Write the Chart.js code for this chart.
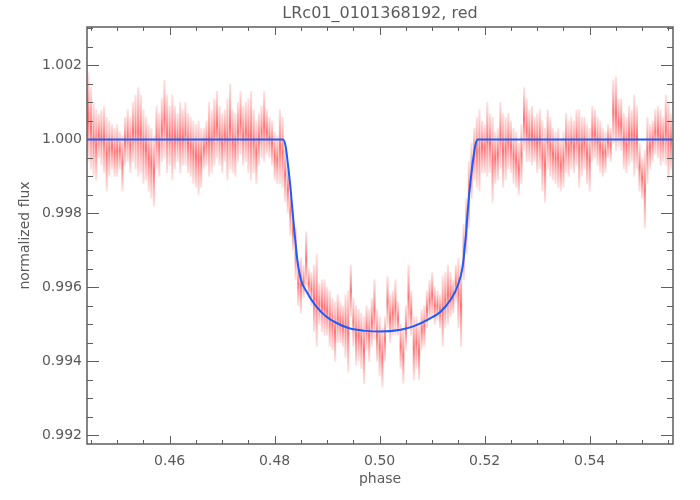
<!DOCTYPE html>
<html>
<head>
<meta charset="utf-8">
<script src="https://cdn.jsdelivr.net/npm/chart.js@4.4.1/dist/chart.umd.min.js"></script>
<style>
  html, body { margin: 0; padding: 0; background: #fff; }
  #wrap { width: 700px; height: 500px; }
</style>
</head>
<body>
<div id="wrap"><canvas id="myChart" width="700" height="500"></canvas></div>
<script>
// folded light curve, one streak per phase bin (lowest / highest flux seen in the bin)
const phase = [
  0.4445,0.4450,0.4455,0.4460,0.4465,0.4470,0.4475,0.4480,0.4485,0.4490,
  0.4495,0.4500,0.4505,0.4510,0.4515,0.4520,0.4525,0.4530,0.4535,0.4540,
  0.4545,0.4550,0.4555,0.4560,0.4565,0.4570,0.4575,0.4580,0.4585,0.4590,
  0.4595,0.4600,0.4605,0.4610,0.4615,0.4620,0.4625,0.4630,0.4635,0.4640,
  0.4645,0.4650,0.4655,0.4660,0.4665,0.4670,0.4675,0.4680,0.4685,0.4690,
  0.4695,0.4700,0.4705,0.4710,0.4715,0.4720,0.4725,0.4730,0.4735,0.4740,
  0.4745,0.4750,0.4755,0.4760,0.4765,0.4770,0.4775,0.4780,0.4785,0.4790,
  0.4795,0.4800,0.4805,0.4810,0.4815,0.4820,0.4825,0.4830,0.4835,0.4840,
  0.4845,0.4850,0.4855,0.4860,0.4865,0.4870,0.4875,0.4880,0.4885,0.4890,
  0.4895,0.4900,0.4905,0.4910,0.4915,0.4920,0.4925,0.4930,0.4935,0.4940,
  0.4945,0.4950,0.4955,0.4960,0.4965,0.4970,0.4975,0.4980,0.4985,0.4990,
  0.4995,0.5000,0.5005,0.5010,0.5015,0.5020,0.5025,0.5030,0.5035,0.5040,
  0.5045,0.5050,0.5055,0.5060,0.5065,0.5070,0.5075,0.5080,0.5085,0.5090,
  0.5095,0.5100,0.5105,0.5110,0.5115,0.5120,0.5125,0.5130,0.5135,0.5140,
  0.5145,0.5150,0.5155,0.5160,0.5165,0.5170,0.5175,0.5180,0.5185,0.5190,
  0.5195,0.5200,0.5205,0.5210,0.5215,0.5220,0.5225,0.5230,0.5235,0.5240,
  0.5245,0.5250,0.5255,0.5260,0.5265,0.5270,0.5275,0.5280,0.5285,0.5290,
  0.5295,0.5300,0.5305,0.5310,0.5315,0.5320,0.5325,0.5330,0.5335,0.5340,
  0.5345,0.5350,0.5355,0.5360,0.5365,0.5370,0.5375,0.5380,0.5385,0.5390,
  0.5395,0.5400,0.5405,0.5410,0.5415,0.5420,0.5425,0.5430,0.5435,0.5440,
  0.5445,0.5450,0.5455,0.5460,0.5465,0.5470,0.5475,0.5480,0.5485,0.5490,
  0.5495,0.5500,0.5505,0.5510,0.5515,0.5520,0.5525,0.5530,0.5535,0.5540,
  0.5545,0.5550,0.5555
];
const fluxHigh = [
  1.0018,1.0014,1.0010,1.0008,1.0007,1.0008,1.0009,1.0006,1.0005,1.0004,
  1.0003,1.0004,1.0002,1.0001,1.0006,1.0008,1.0006,1.0010,1.0012,1.0014,
  1.0012,1.0008,1.0006,1.0004,1.0003,1.0001,1.0009,1.0007,1.0011,1.0016,
  1.0012,1.0009,1.0012,1.0009,1.0007,1.0010,1.0008,1.0010,1.0007,1.0006,
  1.0005,1.0004,1.0005,1.0003,1.0003,1.0005,1.0010,1.0008,1.0011,1.0013,
  1.0009,1.0007,1.0008,1.0011,1.0015,1.0008,1.0007,1.0010,1.0013,1.0009,
  1.0010,1.0011,1.0013,1.0008,1.0005,1.0007,1.0009,1.0013,1.0008,1.0006,
  1.0005,1.0002,1.0001,1.0008,1.0006,0.9998,0.9993,0.9987,0.9981,0.9976,
  0.9967,0.9968,0.9966,0.9975,0.9965,0.9964,0.9966,0.9969,0.9961,0.9962,
  0.9962,0.9960,0.9959,0.9957,0.9956,0.9958,0.9956,0.9955,0.9958,0.9959,
  0.9966,0.9957,0.9955,0.9954,0.9953,0.9952,0.9955,0.9954,0.9957,0.9962,
  0.9954,0.9952,0.9949,0.9952,0.9963,0.9958,0.9959,0.9962,0.9956,0.9950,
  0.9949,0.9955,0.9966,0.9959,0.9952,0.9952,0.9950,0.9954,0.9955,0.9959,
  0.9962,0.9964,0.9960,0.9959,0.9958,0.9963,0.9964,0.9966,0.9964,0.9962,
  0.9966,0.9968,0.9966,0.9977,0.9984,0.9994,0.9999,1.0003,1.0006,1.0008,
  1.0005,1.0004,1.0010,1.0007,1.0006,1.0002,1.0003,1.0010,1.0007,1.0006,
  1.0007,1.0005,1.0003,1.0002,0.9999,1.0004,1.0014,1.0011,1.0008,1.0009,
  1.0006,1.0007,1.0008,1.0005,1.0003,1.0008,1.0006,1.0003,1.0002,1.0003,
  1.0000,1.0002,1.0007,1.0005,1.0006,1.0005,1.0008,1.0008,1.0006,1.0006,
  1.0004,1.0003,1.0009,1.0008,1.0006,1.0005,1.0003,1.0002,1.0004,1.0003,
  1.0016,1.0017,1.0011,1.0011,1.0007,1.0006,1.0009,1.0008,1.0012,1.0009,
  0.9999,0.9995,0.9997,1.0006,1.0004,1.0005,1.0008,1.0009,1.0008,1.0006,
  1.0012,1.0010,1.0007
];
const fluxLow = [
  0.9994,0.9992,0.9990,0.9989,0.9995,0.9993,0.9991,0.9986,0.9990,0.9992,
  0.9990,0.9990,0.9992,0.9986,0.9993,0.9994,0.9991,0.9994,0.9992,0.9990,
  0.9991,0.9988,0.9989,0.9986,0.9984,0.9982,0.9992,0.9990,0.9994,0.9995,
  0.9991,0.9993,0.9989,0.9992,0.9994,0.9991,0.9993,0.9993,0.9991,0.9990,
  0.9988,0.9987,0.9985,0.9987,0.9992,0.9993,0.9990,0.9991,0.9993,0.9995,
  0.9993,0.9991,0.9994,0.9989,0.9992,0.9991,0.9990,0.9994,0.9996,0.9993,
  0.9994,0.9991,0.9989,0.9991,0.9988,0.9993,0.9995,0.9994,0.9996,0.9995,
  0.9993,0.9989,0.9988,0.9988,0.9987,0.9983,0.9980,0.9974,0.9970,0.9962,
  0.9955,0.9953,0.9957,0.9960,0.9957,0.9955,0.9948,0.9944,0.9950,0.9948,
  0.9947,0.9947,0.9944,0.9943,0.9940,0.9945,0.9945,0.9944,0.9941,0.9937,
  0.9952,0.9944,0.9939,0.9940,0.9938,0.9934,0.9943,0.9940,0.9944,0.9946,
  0.9940,0.9936,0.9933,0.9940,0.9949,0.9945,0.9947,0.9947,0.9947,0.9938,
  0.9934,0.9943,0.9949,0.9947,0.9935,0.9938,0.9935,0.9943,0.9944,0.9949,
  0.9951,0.9952,0.9950,0.9951,0.9949,0.9944,0.9949,0.9950,0.9952,0.9953,
  0.9956,0.9949,0.9944,0.9962,0.9969,0.9976,0.9984,0.9989,0.9987,0.9986,
  0.9991,0.9991,0.9990,0.9991,0.9983,0.9988,0.9989,0.9992,0.9987,0.9989,
  0.9992,0.9991,0.9988,0.9987,0.9985,0.9988,0.9997,0.9994,0.9994,0.9993,
  0.9994,0.9991,0.9992,0.9986,0.9983,0.9992,0.9990,0.9989,0.9988,0.9987,
  0.9986,0.9987,0.9991,0.9990,0.9992,0.9991,0.9993,0.9987,0.9990,0.9992,
  0.9988,0.9986,0.9994,0.9995,0.9993,0.9991,0.9990,0.9991,0.9995,0.9994,
  0.9999,0.9997,0.9998,0.9997,0.9992,0.9991,0.9993,0.9994,0.9990,0.9992,
  0.9986,0.9984,0.9976,0.9988,0.9992,0.9994,0.9996,0.9995,0.9993,0.9994,
  0.9993,0.9989,0.9992
];

// fitted transit model
const modelPhase = [0.4442, 0.4816, 0.4821, 0.4825, 0.4830, 0.4835, 0.4839, 0.4844, 0.4850,
  0.4860, 0.4879, 0.4898, 0.4917, 0.4942, 0.4974, 0.4999, 0.5040, 0.5065, 0.5091, 0.5116,
  0.5135, 0.5148, 0.5158, 0.5164, 0.5170, 0.5177, 0.5183, 0.5187, 0.5559];
const modelFlux = [1.0000, 1.0000, 0.9998, 0.99935, 0.9987, 0.9979, 0.9973, 0.99665, 0.9962,
  0.9959, 0.99548, 0.99521, 0.99504, 0.99489, 0.99482, 0.9948, 0.99485, 0.99495, 0.99512, 0.99534,
  0.99566, 0.99602, 0.99656, 0.99737, 0.99845, 0.99935, 0.99989, 1.0000, 1.0000];

const xTicks = [0.46, 0.48, 0.50, 0.52, 0.54];
const yTicks = [0.992, 0.994, 0.996, 0.998, 1.000, 1.002];
const xMinor = [0.445, 0.45, 0.455, 0.46, 0.465, 0.47, 0.475, 0.48, 0.485, 0.49, 0.495, 0.50,
  0.505, 0.51, 0.515, 0.52, 0.525, 0.53, 0.535, 0.54, 0.545, 0.55, 0.555];
const yMinor = [0.992, 0.9925, 0.993, 0.9935, 0.994, 0.9945, 0.995, 0.9955, 0.996, 0.9965,
  0.997, 0.9975, 0.998, 0.9985, 0.999, 0.9995, 1.000, 1.0005, 1.001, 1.0015, 1.002, 1.0025, 1.003];

const axisColor = '#5e5e5e';
const textColor = '#5a5a5a';
const fontFamily = '"DejaVu Sans", sans-serif';

function streakColor(c) {
  const raw = c.raw;
  const chart = c.chart;
  if (!raw || !Array.isArray(raw.y) || !chart.scales.y) return 'rgba(255,0,0,0.35)';
  const top = chart.scales.y.getPixelForValue(raw.y[1]);
  const bot = chart.scales.y.getPixelForValue(raw.y[0]);
  if (!(bot > top) || !isFinite(top) || !isFinite(bot)) return 'rgba(255,0,0,0.35)';
  const g = chart.ctx.createLinearGradient(0, top, 0, bot);
  g.addColorStop(0, 'rgba(255,60,60,0.15)');
  g.addColorStop(0.5, 'rgba(255,0,0,0.55)');
  g.addColorStop(1, 'rgba(255,60,60,0.15)');
  return g;
}

const framePlugin = {
  id: 'frame',
  afterDraw(chart) {
    const { ctx, chartArea: a, scales: { x, y } } = chart;
    ctx.save();
    ctx.strokeStyle = axisColor;
    ctx.lineWidth = 1.5;
    ctx.strokeRect(a.left, a.top, a.right - a.left, a.bottom - a.top);
    ctx.lineWidth = 1;
    ctx.beginPath();
    xMinor.forEach(v => {
      const px = Math.round(x.getPixelForValue(v)) + 0.5;
      const len = xTicks.includes(v) ? 8 : 4;
      ctx.moveTo(px, a.bottom); ctx.lineTo(px, a.bottom - len);
      ctx.moveTo(px, a.top); ctx.lineTo(px, a.top + len);
    });
    yMinor.forEach(v => {
      const py = Math.round(y.getPixelForValue(v)) + 0.5;
      const len = yTicks.includes(v) ? 12 : 6;
      ctx.moveTo(a.left, py); ctx.lineTo(a.left + len, py);
      ctx.moveTo(a.right, py); ctx.lineTo(a.right - len, py);
    });
    ctx.stroke();
    // title
    ctx.fillStyle = textColor;
    ctx.font = '16px ' + fontFamily;
    ctx.textAlign = 'center';
    ctx.textBaseline = 'middle';
    ctx.fillText('LRc01_0101368192, red', (a.left + a.right) / 2, 14);
    ctx.restore();
  }
};

const ctx = document.getElementById('myChart');
new Chart(ctx, {
  type: 'bar',
  data: {
    datasets: [
      {
        type: 'line',
        data: modelPhase.map((p, i) => ({ x: p, y: modelFlux[i] })),
        borderColor: '#1b5cff',
        borderWidth: 2,
        pointRadius: 0,
        cubicInterpolationMode: 'monotone',
        order: 0
      },
      {
        type: 'bar',
        data: phase.map((p, i) => ({ x: p, y: [fluxLow[i], fluxHigh[i]] })),
        backgroundColor: streakColor,
        borderWidth: 0,
        barThickness: 1.5,
        grouped: false,
        order: 1
      }
    ]
  },
  options: {
    responsive: false,
    animation: false,
    devicePixelRatio: 1,
    layout: { padding: { top: 27, right: 27, left: 0, bottom: 0 } },
    plugins: { legend: { display: false }, tooltip: { enabled: false }, title: { display: false } },
    scales: {
      x: {
        type: 'linear',
        min: 0.44425,
        max: 0.55587,
        offset: false,
        grid: { display: false, drawTicks: false },
        border: { display: false },
        ticks: {
          color: textColor,
          font: { family: fontFamily, size: 14 },
          padding: 9,
          maxRotation: 0,
          autoSkip: false,
          callback: v => v.toFixed(2)
        },
        afterBuildTicks: s => { s.ticks = xTicks.map(v => ({ value: v })); },
        afterFit: s => { s.height = 56; },
        title: {
          display: true,
          text: 'phase',
          color: textColor,
          font: { family: fontFamily, size: 14 },
          padding: { top: 0, bottom: 12 }
        }
      },
      y: {
        type: 'linear',
        min: 0.99176,
        max: 1.00304,
        grid: { display: false, drawTicks: false },
        border: { display: false },
        ticks: {
          color: textColor,
          font: { family: fontFamily, size: 14 },
          padding: 5,
          autoSkip: false,
          callback: v => v.toFixed(3)
        },
        afterBuildTicks: s => { s.ticks = yTicks.map(v => ({ value: v })); },
        afterFit: s => { s.width = 87; },
        title: {
          display: true,
          text: 'normalized flux',
          color: textColor,
          font: { family: fontFamily, size: 14 },
          padding: { top: 17, bottom: 0 }
        }
      }
    }
  },
  plugins: [framePlugin]
});
</script>
</body>
</html>
